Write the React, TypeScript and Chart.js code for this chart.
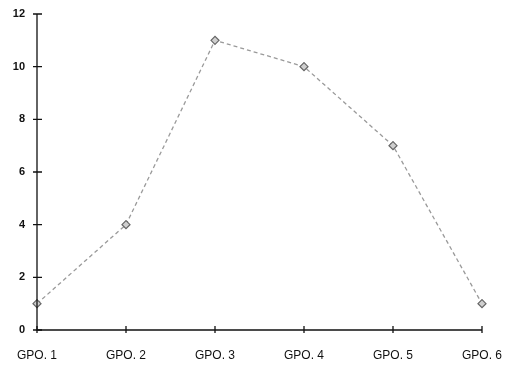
import React, { useEffect, useRef } from "react";
import { Chart, registerables } from "chart.js";

Chart.register(...registerables);

const categories = ["GPO. 1", "GPO. 2", "GPO. 3", "GPO. 4", "GPO. 5", "GPO. 6"];
const values = [1, 4, 11, 10, 7, 1];
const yTicks = [0, 2, 4, 6, 8, 10, 12];

const crossTicks = {
  id: "crossTicks",
  afterDraw(chart: any) {
    const ctx = chart.ctx;
    const x = chart.scales.x;
    const y = chart.scales.y;
    const area = chart.chartArea;
    ctx.save();
    ctx.strokeStyle = "#111";
    ctx.lineWidth = 1.3;
    ctx.beginPath();
    ctx.moveTo(area.left, area.top);
    ctx.lineTo(area.left, area.bottom);
    ctx.lineTo(area.right, area.bottom);
    ctx.stroke();
    ctx.beginPath();
    y.ticks.forEach((_t: any, i: number) => {
      const py = y.getPixelForTick(i);
      ctx.moveTo(area.left - 4, py);
      ctx.lineTo(area.left + 5, py);
    });
    x.ticks.forEach((_t: any, i: number) => {
      const px = x.getPixelForTick(i);
      ctx.moveTo(px, area.bottom - 4);
      ctx.lineTo(px, area.bottom + 3);
    });
    ctx.stroke();
    ctx.restore();
  },
};

export default function App() {
  const ref = useRef<HTMLCanvasElement>(null);
  useEffect(() => {
    document.body.style.margin = "0";
    const chart = new Chart(ref.current!, {
      type: "line",
      data: {
        labels: categories,
        datasets: [
          {
            data: values,
            borderColor: "#9a9a9a",
            borderWidth: 1.3,
            borderDash: [4, 3],
            pointStyle: "rectRot",
            pointRadius: 4,
            pointBackgroundColor: "#cfcfcf",
            pointBorderColor: "#666",
            pointBorderWidth: 1.2,
            tension: 0,
          },
        ],
      },
      plugins: [crossTicks],
      options: {
        animation: false,
        responsive: false,
        layout: { padding: { top: 14, right: 26, left: 0, bottom: 0 } },
        plugins: { legend: { display: false }, tooltip: { enabled: false } },
        scales: {
          x: {
            offset: false,
            border: { display: false },
            grid: { display: false, drawTicks: false },
            ticks: {
              color: "#111",
              font: { family: "Liberation Sans", size: 12 },
              padding: 18,
              maxRotation: 0,
              autoSkip: false,
            },
            afterFit(scale: any) {
              scale.height = 38;
              scale.paddingLeft = 0;
              scale.paddingRight = 0;
            },
          },
          y: {
            min: 0,
            max: 12,
            afterBuildTicks(scale: any) {
              scale.ticks = yTicks.map((v) => ({ value: v }));
            },
            border: { display: false },
            grid: { display: false, drawTicks: false },
            ticks: {
              color: "#111",
              font: { family: "Liberation Sans", size: 11, weight: "bold" },
              padding: 12,
            },
            afterFit(scale: any) {
              scale.width = 37;
              scale.paddingTop = 0;
              scale.paddingBottom = 0;
            },
          },
        },
      },
    });
    return () => chart.destroy();
  }, []);
  return (
    <div style={{ width: 508, height: 368, background: "#fff" }}>
      <canvas ref={ref} width={508} height={368} />
    </div>
  );
}
